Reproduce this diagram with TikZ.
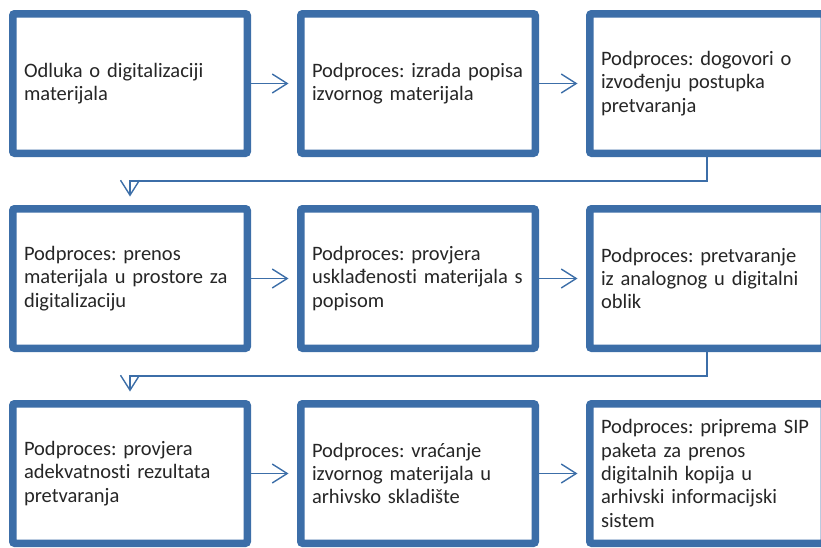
\documentclass[tikz,border=0pt]{standalone}
\usepackage{fontspec}
\setmainfont{Carlito}[Ligatures=NoCommon]
\usepackage{xcolor}
\usepackage{tikz}
\usetikzlibrary{positioning,arrows.meta,shadows}

\definecolor{boxblue}{RGB}{60,110,168}
\definecolor{txtgray}{RGB}{38,38,38}

\tikzset{
  korak/.style={draw=boxblue, line width=7.5pt, fill=white, rounded corners=2pt,
    minimum width=234.5pt, minimum height=139.5pt, text width=212pt,
    inner xsep=11.25pt, align=left, text=txtgray,
    font=\fontsize{20.5}{23.3}\selectfont\frenchspacing,
    drop shadow={opacity=0.25, shadow xshift=1.5pt, shadow yshift=-1.5pt}},
  veza/.style={draw=boxblue, line width=1.4pt, -{Straight Barb[length=15pt,width=19pt,line width=1.4pt]}, shorten >=8.5pt}
}

\begin{document}
\begin{tikzpicture}[x=1pt,y=-1pt]
    \useasboundingbox (0,0) rectangle (821,547);
    \clip (0,0) rectangle (821,547);

    % prvi red
    \node[korak] (b1) at (130,83.5) {Odluka o digitalizaciji\\materijala};
    \node[korak] (b2) at (418,83.5) {Podproces: izrada popisa\\izvornog materijala};
    \node[korak] (b3) at (707,83.5) {Podproces: dogovori o\\izvođenju postupka\\pretvaranja};

    % drugi red
    \node[korak] (b4) at (130,278.5) {Podproces: prenos\\materijala u prostore za\\digitalizaciju};
    \node[korak] (b5) at (418,278.5) {Podproces: provjera\\usklađenosti materijala s\\popisom};
    \node[korak] (b6) at (707,278.5) {Podproces: pretvaranje\\iz analognog u digitalni\\oblik};

    % treci red
    \node[korak] (b7) at (130,473.5) {Podproces: provjera\\adekvatnosti rezultata\\pretvaranja};
    \node[korak] (b8) at (418,473.5) {Podproces: vraćanje\\izvornog materijala u\\arhivsko skladište};
    \node[korak] (b9) at (707,473.5) {Podproces: priprema SIP\\paketa za prenos\\digitalnih kopija u\\arhivski informacijski\\sistem};

    \coordinate (k1) at (130,181);
    \coordinate (k2) at (130,376);

    \draw[veza] (b1) -- (b2);
    \draw[veza] (b2) -- (b3);
    \draw[veza] (b3.south) |- (k1) -- (b4.north);
    \draw[veza] (b4) -- (b5);
    \draw[veza] (b5) -- (b6);
    \draw[veza] (b6.south) |- (k2) -- (b7.north);
    \draw[veza] (b7) -- (b8);
    \draw[veza] (b8) -- (b9);

\end{tikzpicture}
\end{document}
